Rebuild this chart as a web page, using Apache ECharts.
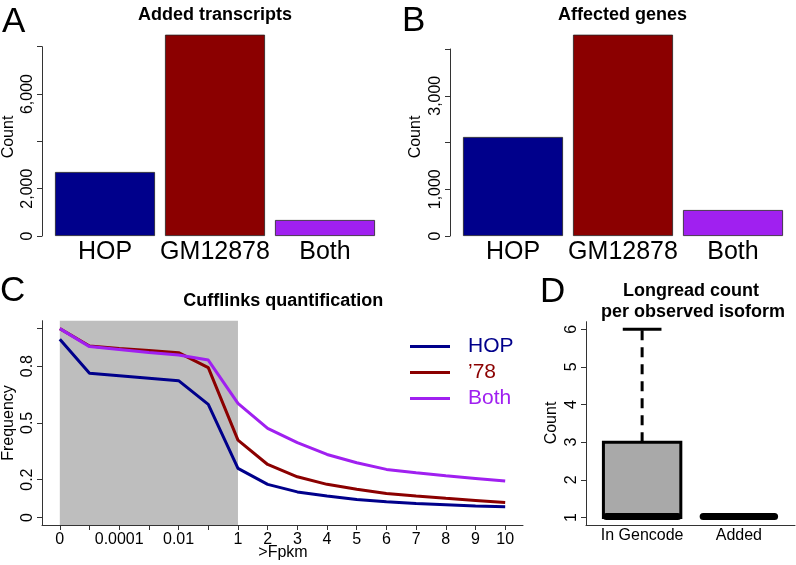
<!DOCTYPE html>
<html><head><meta charset="utf-8">
<script src="https://cdn.jsdelivr.net/npm/echarts@6/dist/echarts.min.js"></script>
<style>html,body{margin:0;padding:0;background:#fff}#c{width:796px;height:565px}</style>
</head><body><div id="c"></div>
<script>
// ---------------- data ----------------
var groups = ['HOP', 'GM12878', 'Both'];
var addedTranscripts = [2705, 8507, 676];
var affectedGenes = [2118, 4306, 556];
var countTicksA = [0, 2000, 4000, 6000, 8000];
var countLabelsA = [0, 2000, 6000];
var countTicksB = [0, 1000, 2000, 3000, 4000];
var countLabelsB = [0, 1000, 3000];

var fpkmThresholds = ['0','0.00001','0.0001','0.001','0.01','0.1','1','2','3','4','5','6','7','8','9','10'];
var fpkmTickLabels = ['0','','0.0001','','0.01','','1','2','3','4','5','6','7','8','9','10'];
var freqHOP  = [0.942,0.762,0.749,0.736,0.723,0.598,0.259,0.175,0.135,0.113,0.095,0.083,0.074,0.067,0.060,0.056];
var freq78   = [0.998,0.906,0.893,0.883,0.871,0.792,0.409,0.280,0.215,0.175,0.149,0.127,0.113,0.101,0.090,0.079];
var freqBoth = [0.998,0.903,0.888,0.872,0.859,0.832,0.603,0.471,0.395,0.333,0.289,0.254,0.236,0.220,0.206,0.192];
var freqTicks = [0, 0.2, 0.5, 0.8, 1.0];
var freqTickLabels = ['0', '0.2', '0.5', '0.8', ''];
var shadedFrom = 0, shadedTo = 6;   // index range of threshold <= 1

var isoformGroups = ['In Gencode', 'Added'];
// min, q1, median, q3, max
var isoformStats = [[1, 1, 1, 3, 6], [1, 1, 1, 1, 1]];
var isoTicks = [1, 2, 3, 4, 5, 6];

// ---------------- styles ----------------
var barColors = ['#00008B', '#8B0000', '#A020F0'];
var lineColors = { HOP: '#00008B', "'78": '#8B0000', Both: '#A020F0' };
var FONT = '"Liberation Sans", Arial, Helvetica, sans-serif';
var AX = '#333';

function fmt(v) { return String(v).replace(/\B(?=(\d{3})+(?!\d))/g, ','); }

var chart = echarts.init(document.getElementById('c'), null, { renderer: 'canvas' });

function barYAxis(gi, max, ticks, labels) {
  return {
    type: 'value', gridIndex: gi, min: 0, max: max, offset: 8,
    axisLine: { show: true, onZero: false, lineStyle: { color: AX, width: 1 } },
    axisTick: { show: true, length: 5, customValues: ticks, lineStyle: { color: AX } },
    axisLabel: { customValues: labels, rotate: 90, margin: 6, fontSize: 16, color: '#000', fontFamily: FONT, formatter: fmt },
    splitLine: { show: false }
  };
}
function barXAxis(gi) {
  return {
    type: 'category', gridIndex: gi, data: groups,
    axisLine: { show: false }, axisTick: { show: false },
    axisLabel: { fontSize: 25, color: '#000', fontFamily: FONT, margin: 4, interval: 0 }
  };
}

var idx = fpkmThresholds.map(function (_, i) { return i; });
function pairs(arr) { return arr.map(function (v, i) { return [i, v]; }); }

function txt(t, x, y, size, bold, align, rot) {
  return {
    type: 'text', x: x, y: y, rotation: rot || 0, silent: true,
    style: { text: t, fill: '#000', font: (bold ? 'bold ' : '') + size + 'px ' + FONT,
             textAlign: align || 'center', textVerticalAlign: 'middle' }
  };
}

var option = {
  backgroundColor: '#fff',
  animation: false,
  grid: [
    { left: 50, top: 46.7, width: 330, height: 189.3 },
    { left: 458, top: 49, width: 330, height: 187 },
    { left: 42, top: 320.7, width: 481, height: 204.3 },
    { left: 586, top: 321.7, width: 209, height: 203.3 }
  ],
  xAxis: [
    barXAxis(0),
    barXAxis(1),
    {
      type: 'value', gridIndex: 2, min: -0.6, max: 15.6,
      axisLine: { show: true, onZero: false, lineStyle: { color: AX } },
      axisTick: { show: true, length: 5, customValues: idx, lineStyle: { color: AX } },
      axisLabel: { customValues: idx, fontSize: 16, color: '#000', fontFamily: FONT, margin: 7,
                   formatter: function (v) { return fpkmTickLabels[Math.round(v)] || ''; } },
      splitLine: { show: false }
    },
    {
      type: 'value', gridIndex: 3, min: 0.42, max: 2.58,
      axisLine: { show: true, onZero: false, lineStyle: { color: AX } },
      axisTick: { show: false },
      axisLabel: { customValues: [1, 2], fontSize: 16, color: '#000', fontFamily: FONT, margin: 3,
                   formatter: function (v) { return isoformGroups[Math.round(v) - 1] || ''; } },
      splitLine: { show: false }
    }
  ],
  yAxis: [
    barYAxis(0, 8000, countTicksA, countLabelsA),
    barYAxis(1, 4000, countTicksB, countLabelsB),
    {
      type: 'value', gridIndex: 2, min: -0.04, max: 1.04,
      axisLine: { show: true, onZero: false, lineStyle: { color: AX } },
      axisTick: { show: true, length: 5, customValues: freqTicks, lineStyle: { color: AX } },
      axisLabel: { customValues: freqTicks, rotate: 90, margin: 6, fontSize: 16, color: '#000', fontFamily: FONT,
                   formatter: function (v) { var k = freqTicks.indexOf(+v.toFixed(2)); return k >= 0 ? freqTickLabels[k] : ''; } },
      splitLine: { show: false }
    },
    {
      type: 'value', gridIndex: 3, min: 0.8, max: 6.2,
      axisLine: { show: true, onZero: false, lineStyle: { color: AX } },
      axisTick: { show: true, length: 5, customValues: isoTicks, lineStyle: { color: AX } },
      axisLabel: { customValues: isoTicks, rotate: 90, margin: 6, fontSize: 16, color: '#000', fontFamily: FONT },
      splitLine: { show: false }
    }
  ],
  legend: {
    orient: 'vertical', left: 410, top: 336, padding: 0, itemWidth: 40, itemHeight: 3, itemGap: 5,
    icon: 'rect', selectedMode: false,
    textStyle: { fontSize: 21, fontFamily: FONT, lineHeight: 21, padding: [0, 0, 0, 13] },
    data: [
      { name: 'HOP', textStyle: { color: lineColors.HOP } },
      { name: "'78", textStyle: { color: lineColors["'78"] } },
      { name: 'Both', textStyle: { color: lineColors.Both } }
    ],
    formatter: function (n) { return n === "'78" ? '\u201978' : n; }
  },
  series: [
    {
      type: 'bar', xAxisIndex: 0, yAxisIndex: 0, barWidth: 100, clip: false,
      data: addedTranscripts.map(function (v, i) { return { value: v, itemStyle: { color: barColors[i] } }; }),
      itemStyle: { borderColor: '#222', borderWidth: 0.8 }
    },
    {
      type: 'bar', xAxisIndex: 1, yAxisIndex: 1, barWidth: 100, clip: false,
      data: affectedGenes.map(function (v, i) { return { value: v, itemStyle: { color: barColors[i] } }; }),
      itemStyle: { borderColor: '#222', borderWidth: 0.8 }
    },
    {
      type: 'line', xAxisIndex: 2, yAxisIndex: 2, data: [], silent: true, z: 1,
      markArea: { silent: true, itemStyle: { color: '#BEBEBE', opacity: 1 },
        data: [[{ xAxis: shadedFrom, yAxis: -0.04 }, { xAxis: shadedTo, yAxis: 1.04 }]] }
    },
    { name: 'HOP', type: 'line', xAxisIndex: 2, yAxisIndex: 2, data: pairs(freqHOP), symbol: 'none', z: 3,
      color: lineColors.HOP, lineStyle: { width: 3, color: lineColors.HOP } },
    { name: "'78", type: 'line', xAxisIndex: 2, yAxisIndex: 2, data: pairs(freq78), symbol: 'none', z: 3,
      color: lineColors["'78"], lineStyle: { width: 3, color: lineColors["'78"] } },
    { name: 'Both', type: 'line', xAxisIndex: 2, yAxisIndex: 2, data: pairs(freqBoth), symbol: 'none', z: 3,
      color: lineColors.Both, lineStyle: { width: 3, color: lineColors.Both } },
    {
      type: 'custom', xAxisIndex: 3, yAxisIndex: 3,
      data: isoformStats.map(function (s, i) { return [i + 1].concat(s); }),
      renderItem: function (params, api) {
        var x = api.value(0), mn = api.value(1), q1 = api.value(2), md = api.value(3), q3 = api.value(4), mx = api.value(5);
        var hw = 0.4, cw = 0.2;
        var ch = [];
        var tl = api.coord([x - hw, q3]), br = api.coord([x + hw, q1]);
        if (q3 > q1) {
          ch.push({ type: 'rect', shape: { x: tl[0], y: tl[1], width: br[0] - tl[0], height: br[1] - tl[1] },
                    style: { fill: '#A9A9A9', stroke: '#000', lineWidth: 3 } });
        }
        if (mx > q3) {
          var a = api.coord([x, q3]), b = api.coord([x, mx]);
          ch.push({ type: 'line', shape: { x1: a[0], y1: a[1], x2: b[0], y2: b[1] },
                    style: { stroke: '#000', lineWidth: 3, lineDash: [10, 7] } });
          var c1 = api.coord([x - cw, mx]), c2 = api.coord([x + cw, mx]);
          ch.push({ type: 'line', shape: { x1: c1[0], y1: c1[1], x2: c2[0], y2: c2[1] },
                    style: { stroke: '#000', lineWidth: 3 } });
        }
        if (mn < q1) {
          var d = api.coord([x, q1]), e = api.coord([x, mn]);
          ch.push({ type: 'line', shape: { x1: d[0], y1: d[1], x2: e[0], y2: e[1] },
                    style: { stroke: '#000', lineWidth: 3, lineDash: [10, 7] } });
          var f1 = api.coord([x - cw, mn]), f2 = api.coord([x + cw, mn]);
          ch.push({ type: 'line', shape: { x1: f1[0], y1: f1[1], x2: f2[0], y2: f2[1] },
                    style: { stroke: '#000', lineWidth: 3 } });
        }
        var m1 = api.coord([x - hw, md]), m2 = api.coord([x + hw, md]);
        ch.push({ type: 'line', shape: { x1: m1[0] + 3, y1: m1[1] - 1, x2: m2[0] - 3, y2: m2[1] - 1 },
                  style: { stroke: '#000', lineWidth: 7, lineCap: 'round' } });
        return { type: 'group', children: ch };
      }
    }
  ],
  graphic: [
    txt('A', 2, 22.5, 35, false, 'left'),
    txt('B', 402, 21.7, 35, false, 'left'),
    txt('C', 0, 291.7, 35, false, 'left'),
    txt('D', 540, 292.5, 35, false, 'left'),
    txt('Added transcripts', 215, 15, 18, true),
    txt('Affected genes', 622.5, 15, 18, true),
    txt('Cufflinks quantification', 283.3, 301, 18, true),
    txt('Longread count', 691, 291, 18, true),
    txt('per observed isoform', 693, 312.5, 18, true),
    txt('Count', 9, 137, 16, false, 'center', Math.PI / 2),
    txt('Count', 416, 137, 16, false, 'center', Math.PI / 2),
    txt('Frequency', 9, 423, 16, false, 'center', Math.PI / 2),
    txt('Count', 552, 423, 16, false, 'center', Math.PI / 2),
    txt('>Fpkm', 283, 552.5, 16, false)
  ]
};
chart.setOption(option);
</script></body></html>
